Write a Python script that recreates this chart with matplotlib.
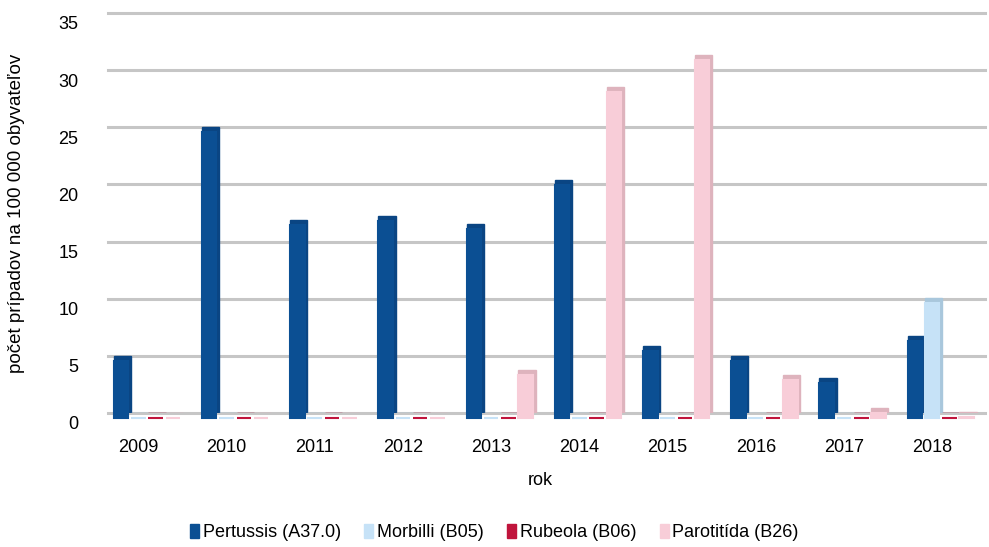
import numpy as np
import matplotlib
matplotlib.use('Agg')
import matplotlib.pyplot as plt
import matplotlib.transforms as mtransforms
from matplotlib.patches import Patch

plt.rcParams['font.family'] = ['Liberation Sans', 'DejaVu Sans']

# údaje
roky = ['2009', '2010', '2011', '2012', '2013', '2014', '2015', '2016', '2017', '2018']
pertussis = [5.0, 25.0, 16.9, 17.2, 16.5, 20.4, 5.9, 5.0, 3.1, 6.7]
morbilli = [0.0, 0.0, 0.0, 0.0, 0.0, 0.0, 0.0, 0.0, 0.0, 10.1]
rubeola = [0.0, 0.0, 0.0, 0.0, 0.0, 0.0, 0.0, 0.0, 0.0, 0.0]
parotitida = [0.0, 0.0, 0.0, 0.0, 3.8, 28.5, 31.3, 3.3, 0.4, 0.1]

nazvy = ['Pertussis (A37.0)', 'Morbilli (B05)', 'Rubeola (B06)', 'Parotitída (B26)']
farby = ['#0b4f93', '#c6e2f7', '#c0143c', '#f8cdd8']
tiene = ['#0a4583', '#a9c7dc', '#a3123a', '#deb3bd']

fig = plt.figure(figsize=(9.89, 5.47), dpi=100)
ax = fig.add_axes([0.096, 0.245, 0.9, 0.7313])

# posun prednej steny stĺpca (3D dojem)
predok = mtransforms.offset_copy(ax.transData, fig=fig, x=0, y=-5, units='dots')

x = np.arange(len(roky))
w = 0.196
front = 0.165
serie = [pertussis, morbilli, rubeola, parotitida]
for i, (vals, c, t) in enumerate(zip(serie, farby, tiene)):
    left = x - 0.28 + i * w
    ax.bar(left, vals, front + 0.03, align='edge', color=t, edgecolor=t,
           linewidth=1, zorder=2)
    ax.bar(left, vals, front, align='edge', color=c, edgecolor=c,
           linewidth=1.5, zorder=3, transform=predok, clip_on=False)

ax.set_xlim(-0.493, 9.598)
ax.set_ylim(0, 35)
ax.set_yticks(range(0, 36, 5))
ax.set_xticks(x)
ax.set_xticklabels(roky)
ax.tick_params(length=0, labelsize=13)
ax.tick_params(axis='x', pad=19)
ax.tick_params(axis='y', pad=12)
for s in ax.spines.values():
    s.set_visible(False)

# popisy osi y trochu nižšie ako mriežka
posun = mtransforms.ScaledTranslation(0, -10 / 100, fig.dpi_scale_trans)
for lab in ax.get_yticklabels():
    lab.set_transform(lab.get_transform() + posun)

# mriežka na zadnej stene
for v in range(0, 36, 5):
    ax.plot([0.015, 1.0], [v, v], color='#c6c6c6', linewidth=2.2,
            transform=ax.get_yaxis_transform(), zorder=1, clip_on=False)

ax.set_ylabel('počet prípadov na 100 000 obyvateľov', fontsize=13.5, labelpad=24)
ax.set_xlabel('rok', fontsize=13, labelpad=11)

handles = [Patch(color=c, label=n) for c, n in zip(farby, nazvy)]
fig.legend(handles=handles, loc='center', bbox_to_anchor=(0.5, 0.026), ncol=4,
           frameon=False, fontsize=13, handlelength=0.5, handleheight=0.75,
           handletextpad=0.2, columnspacing=1.3)

plt.savefig('out.png', dpi=100)
